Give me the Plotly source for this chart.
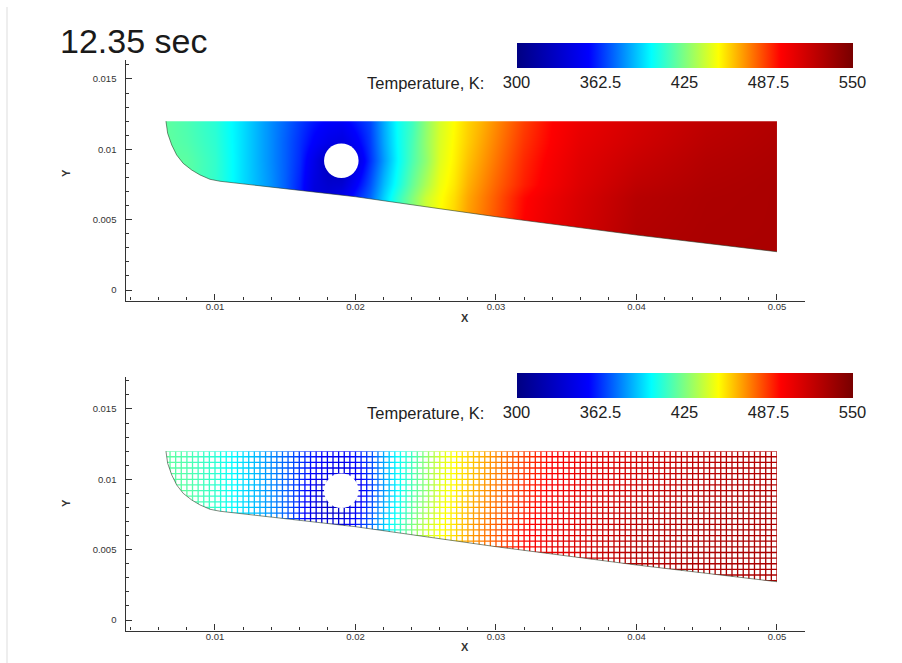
import numpy as np
import plotly.graph_objects as go

W, H = 902, 663

# ---- data ----
field_x = [.006, .008, .010, .012, .014, .015, .016, .017, .018, .019, .020, .021, .022, .023,
           .024, .025, .026, .027, .028, .029, .030, .032, .034, .036, .040, .045, .050]
field_y = [.0027, .0066, .0075, .0092, .0105, .012]
T_y0027 = [420, 418, 410, 394, 381, 372, 358, 338, 337, 346, 360, 372, 392, 410, 425, 440, 452, 460, 470, 476, 483, 498, 507, 515, 528, 530, 530]
T_y0066 = [420, 418, 410, 394, 381, 372, 358, 338, 337, 346, 360, 372, 392, 410, 425, 440, 449, 456, 466, 473, 480, 495, 504, 512, 525, 529, 530]
T_y0075 = [420, 418, 410, 394, 380, 371, 359, 340, 333, 335, 352, 368, 388, 404, 420, 434, 447, 454, 464, 471, 478, 491, 501, 510, 522, 528, 530]
T_y0092 = [420, 418, 410, 394, 379, 371, 361, 344, 325, 320, 340, 362, 382, 400, 415, 428, 444, 452, 461, 468, 475, 489, 499, 508, 518, 526, 529]
T_y0105 = [420, 416, 409, 394, 379, 371, 362, 352, 344, 340, 350, 364, 384, 401, 414, 429, 443, 451, 459, 466, 473, 487, 497, 506, 515, 524, 528]
T_y0120 = [420, 415, 408, 394, 379, 372, 364, 357, 352, 350, 358, 366, 385, 402, 412, 428, 442, 450, 458, 464, 471, 485, 496, 504, 513, 522, 527]

wall_x = [.00651, .00663, .00692, .00727, .00774, .00834, .00893, .00964, .01036, .020, .030, .040, .050]
wall_y = [.01200, .01114, .01031, .00960, .00900, .00853, .00818, .00787, .00773, .00663, .00521, .00391, .00272]
top_y = .012
right_x = .05
hole_x, hole_y, hole_r = .01899, .00919, .00123
mesh_step = .0004

cbar_vals = [300, 362.5, 425, 487.5, 550]
cbar_text = ["300", "362.5", "425", "487.5", "550"]
x_range = [.00363, .05201]
y_range_top = [-.000746, .01635]
y_range_bot = [-.000746, .01727]

jet = [[0, "rgb(0,0,130)"], [.214, "rgb(0,0,255)"], [.4, "rgb(0,255,255)"],
       [.6, "rgb(255,255,0)"], [.785, "rgb(255,0,0)"], [1, "rgb(120,0,0)"]]

INK = "#333333"
FONT = "Liberation Sans, Arial, sans-serif"
z = [T_y0027, T_y0066, T_y0075, T_y0092, T_y0105, T_y0120]

fig = go.Figure()


def heat(xa, ya, bar_top):
    return go.Heatmap(
        x=field_x, y=field_y, z=z, xaxis=xa, yaxis=ya, zsmooth="best", zmin=300, zmax=550,
        colorscale=jet, hoverinfo="skip",
        colorbar=dict(orientation="h", x=516.5 / W, xanchor="left", y=1 - bar_top / H, yanchor="top",
                      len=336, lenmode="pixels", thickness=25, thicknessmode="pixels",
                      xpad=0, ypad=0, outlinewidth=0, tickvals=cbar_vals, ticktext=cbar_text,
                      ticks="outside", ticklen=1, tickcolor="rgba(0,0,0,0)",
                      tickfont=dict(family=FONT, size=16.5, color="#222222")))


def masks(xa, ya, yr):
    # white surround, three separate polygons around the wedge
    polys = [
        ([x_range[0], wall_x[0]] + list(wall_x) + [x_range[1], x_range[1], x_range[0], x_range[0]],
         [yr[1], yr[1]] + list(wall_y) + [wall_y[-1], yr[0], yr[0], yr[1]]),
        ([x_range[0], x_range[1], x_range[1], x_range[0], x_range[0]],
         [top_y, top_y, yr[1], yr[1], top_y]),
        ([right_x, x_range[1], x_range[1], right_x, right_x],
         [yr[0], yr[0], yr[1], yr[1], yr[0]]),
    ]
    return [go.Scatter(x=px, y=py, xaxis=xa, yaxis=ya, mode="lines", fill="toself", fillcolor="white",
                       line=dict(width=0, color="white", simplify=False), hoverinfo="skip", showlegend=False)
            for px, py in polys]


def wall(xa, ya):
    return go.Scatter(x=wall_x, y=wall_y, xaxis=xa, yaxis=ya, mode="lines",
                      line=dict(width=0.8, color="rgba(40,60,40,0.75)", simplify=False),
                      hoverinfo="skip", showlegend=False)


# top panel: continuous field
fig.add_trace(heat("x", "y", 43))
fig.add_traces(masks("x", "y", y_range_top))
fig.add_trace(wall("x", "y"))

# bottom panel: same field seen through the mesh
fig.add_trace(heat("x2", "y2", 373))
cx = np.arange(right_x - mesh_step / 2, wall_x[0] - mesh_step, -mesh_step)
cy = np.arange(top_y - mesh_step / 2, wall_y[-1] - mesh_step, -mesh_step)
gx, gy = np.meshgrid(cx, cy)
fig.add_trace(go.Scatter(x=gx.ravel(), y=gy.ravel(), xaxis="x2", yaxis="y2", mode="markers",
                         marker=dict(symbol="square", size=4.3, color="white", line=dict(width=0)),
                         hoverinfo="skip", showlegend=False))
fig.add_traces(masks("x2", "y2", y_range_bot))
fig.add_trace(wall("x2", "y2"))


def xaxis(anchor):
    return dict(domain=[125.5 / W, 805.2 / W], range=x_range, anchor=anchor, showgrid=False, zeroline=False,
                showline=True, linecolor=INK, linewidth=1.3, ticks="inside", ticklen=6, tickwidth=1.2,
                tickcolor=INK, tick0=0, dtick=.01, ticklabelstandoff=-3,
                tickfont=dict(family=FONT, size=9.5, color=INK),
                minor=dict(ticks="inside", ticklen=3, tickwidth=1, tickcolor=INK, tick0=0, dtick=.002, showgrid=False))


def yaxis(anchor, dom, rng):
    return dict(domain=dom, range=rng, anchor=anchor, showgrid=False, zeroline=False,
                showline=True, linecolor=INK, linewidth=1.3, ticks="inside", ticklen=6, tickwidth=1.2,
                tickcolor=INK, tick0=0, dtick=.005, ticklabelstandoff=6,
                tickfont=dict(family=FONT, size=9.5, color=INK),
                minor=dict(ticks="inside", ticklen=3, tickwidth=1, tickcolor=INK, tick0=0, dtick=.001, showgrid=False))


def label(text, px, py, size=16.5, angle=0, xanchor="center", weight="normal", color="#222222"):
    return dict(text=text, x=px / W, y=1 - py / H, xref="paper", yref="paper", showarrow=False, textangle=angle,
                xanchor=xanchor, yanchor="middle", font=dict(family=FONT, size=size, color=color, weight=weight))


fig.update_layout(
    width=W, height=H, margin=dict(l=0, r=0, t=0, b=0), paper_bgcolor="white", plot_bgcolor="white",
    showlegend=False,
    xaxis=xaxis("y"), yaxis=yaxis("x", [1 - 300.5 / H, 1 - 60 / H], y_range_top),
    xaxis2=xaxis("y2"), yaxis2=yaxis("x2", [1 - 630.5 / H, 1 - 377 / H], y_range_bot),
    annotations=[
        label("12.35 sec", 58, 41, size=34, xanchor="left", color="#1a1a1a"),
        label("Temperature, K:", 486, 82.5, xanchor="right"),
        label("Temperature, K:", 486, 412.5, xanchor="right"),
        label("X", 465, 318, size=11, color=INK, weight="bold"),
        label("X", 465, 647, size=11, color=INK, weight="bold"),
        label("Y", 66, 173, size=11, angle=-90, color=INK, weight="bold"),
        label("Y", 66, 503, size=11, angle=-90, color=INK, weight="bold"),
    ],
    shapes=[
        dict(type="circle", xref="x", yref="y", x0=hole_x - hole_r, x1=hole_x + hole_r,
             y0=hole_y - hole_r, y1=hole_y + hole_r, fillcolor="white", line=dict(width=0)),
        dict(type="circle", xref="x2", yref="y2", x0=hole_x - hole_r, x1=hole_x + hole_r,
             y0=hole_y - hole_r, y1=hole_y + hole_r, fillcolor="white", line=dict(width=0)),
        dict(type="line", xref="paper", yref="paper", x0=7 / W, x1=7 / W, y0=0, y1=1 - 7 / H,
             line=dict(color="#dddddd", width=1)),
    ],
)

fig.write_html("out.html", config={"displayModeBar": False}, post_script="document.body.style.margin='0';")
